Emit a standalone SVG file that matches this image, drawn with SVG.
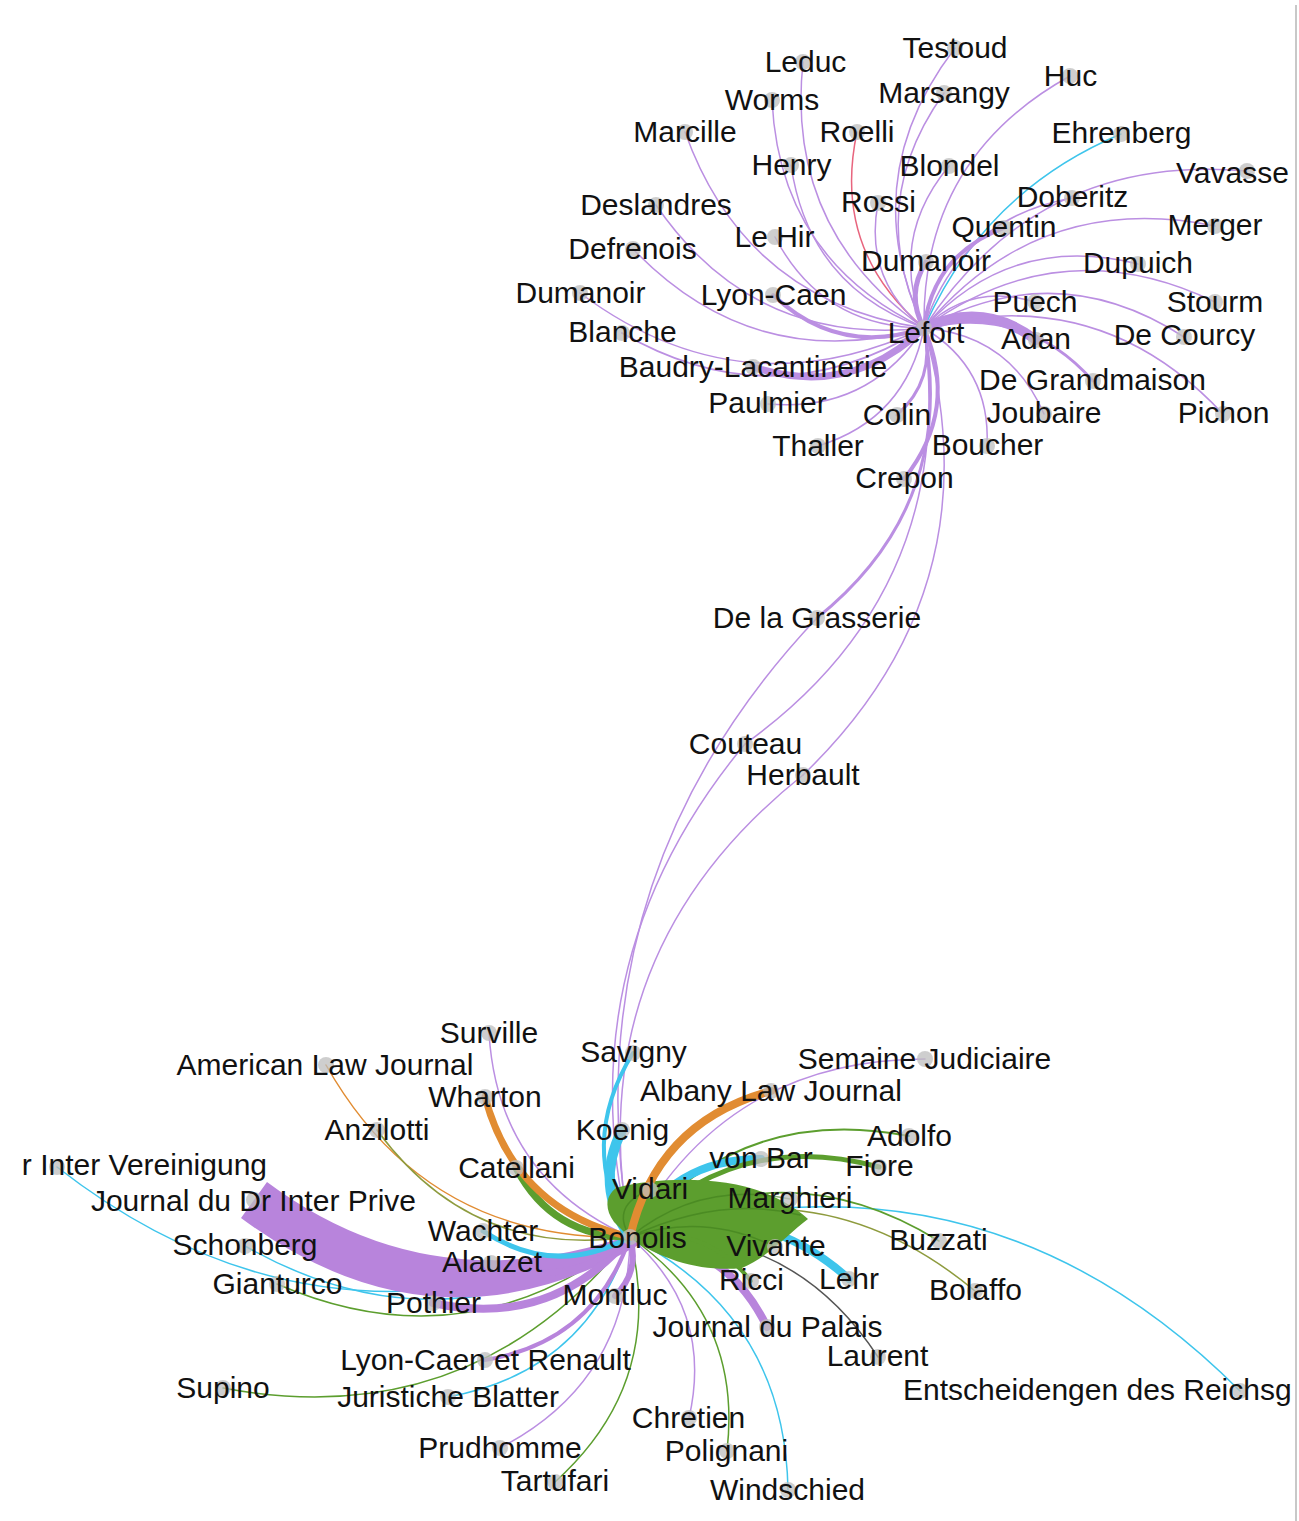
<svg xmlns="http://www.w3.org/2000/svg" width="1299" height="1521" viewBox="0 0 1299 1521">
<style>
.e{fill:none;stroke-linecap:round}
.p{stroke:#bb8fe2;stroke-width:1.5}
.c{stroke:#3ec5ec;stroke-width:1.5}
.g{stroke:#5c9e2e;stroke-width:1.5}
.o{stroke:#e18c32;stroke-width:1.5}
.r{stroke:#e8657e;stroke-width:1.5}
.ol{stroke:#8e9b3e;stroke-width:1.5}
.k{stroke:#555;stroke-width:1.5}
.dg{stroke:#3f7f1c;stroke-width:1.5;stroke-opacity:.6}
.n{fill:#bdbdbd;fill-opacity:.75}
text{font-family:"Liberation Sans",Arial,sans-serif;font-size:30px;fill:#111;text-anchor:middle}
</style>
<rect width="1299" height="1521" fill="#fff"/>
<line x1="1296" y1="5" x2="1296" y2="1521" stroke="#c8c8c8" stroke-width="2"/>
<g id="connectors">
<!-- Lefort hub -->
<path class="e p" d="M924,328 Q854.5,179.3 955,48"/>
<path class="e p" d="M924,328 Q785.2,230.4 803,62"/>
<path class="e p" d="M924,328 Q921.4,158.2 1070,76"/>
<path class="e p" d="M924,328 Q779.6,259.6 772,100"/>
<path class="e p" d="M924,328 Q863.8,205 944,93"/>
<path class="e p" d="M924,328 Q745.7,301.7 685,132"/>
<path class="e r" d="M924,328 Q831.7,250.1 857,132"/>
<path class="e c" d="M924,328 Q983.7,191.6 1121,134"/>
<path class="e p" d="M924,328 Q808.6,286.4 791,165"/>
<path class="e p" d="M924,328 Q887.9,239.5 949,166"/>
<path class="e p" d="M924,328 Q1038.1,152.1 1247,171"/>
<path class="e p" d="M924,328 Q753.1,346.9 656,205"/>
<path class="e p" d="M924,328 Q863.5,279.3 878,203"/>
<path class="e p" d="M924,328 Q959,218.6 1072,198"/>
<path class="e p" style="stroke-width:4" d="M924,328 Q933.5,254.3 1004,228"/>
<path class="e p" d="M924,328 Q1038.4,190 1215,226"/>
<path class="e p" d="M924,328 Q822.2,327.2 775,237"/>
<path class="e p" d="M924,328 Q754.8,375.8 633,249"/>
<path class="e p" style="stroke-width:5" d="M924,328 Q905.5,294.9 926,262"/>
<path class="e p" d="M924,328 Q1011.3,232.1 1138,264"/>
<path class="e p" d="M924,328 Q741.5,413.7 580,293"/>
<path class="e p" style="stroke-width:4" d="M924,328 Q838.6,356.8 773,295"/>
<path class="e p" d="M924,328 Q971.2,282 1035,302"/>
<path class="e p" d="M924,328 Q1061.2,228 1215,302"/>
<path class="e p" style="stroke-width:2" d="M924,328 Q774.5,421.1 622,333"/>
<path class="e p" style="stroke-width:10" d="M924,328 Q983.6,300.4 1036,340"/>
<path class="e p" d="M924,328 Q1056.7,254.5 1184,337"/>
<path class="e p" style="stroke-width:7" d="M924,328 Q850.2,398.8 753,367"/>
<path class="e p" style="stroke-width:3" d="M924,328 Q1024.4,303.8 1093,381"/>
<path class="e p" d="M924,328 Q868.8,412.8 768,404"/>
<path class="e p" style="stroke-width:3" d="M924,328 Q936.1,379.9 897,415"/>
<path class="e p" d="M924,328 Q1009.8,335 1044,414"/>
<path class="e p" d="M924,328 Q1099.3,281.3 1223,414"/>
<path class="e p" d="M924,328 Q905.9,419.1 818,446"/>
<path class="e p" d="M924,328 Q990.9,368.1 987,446"/>
<path class="e p" style="stroke-width:4" d="M924,328 Q959.3,409.5 904,479"/>
<path class="e p" style="stroke-width:3" d="M924,328 Q957.5,505.1 817,618"/>
<path class="e p" d="M924,328 Q959.3,589.7 745,744"/>
<path class="e p" d="M924,328 Q997.6,587.8 803,775"/>
<!-- Bonolis hub -->
<path class="e p" d="M630,1237 Q568.75,880.75 817,618"/>
<path class="e p" d="M630,1237 Q564.25,961.75 745,744"/>
<path class="e p" d="M630,1237 Q577.9,954.1 803,775"/>
<path class="e p" d="M630,1237 Q497.8,1177.6 489,1033"/>
<path class="e o" d="M630,1237 Q426.4,1242.2 326,1065"/>
<path class="e p" d="M630,1237 Q724.1,1059.5 925,1059"/>
<path class="e ol" d="M630,1237 Q471.4,1259.4 377,1130"/>
<path class="e c" d="M630,1237 Q322.5,1373.9 57,1167"/>
<path class="e c" d="M630,1237 Q440.2,1357 245,1246"/>
<path class="e g" d="M630,1237 Q467.6,1366.4 277,1284"/>
<path class="e g" d="M630,1237 Q471.8,1434.6 223,1388"/>
<path class="e c" d="M630,1237 Q587,1371.6 448,1397"/>
<path class="e p" d="M630,1237 Q713.8,1309.8 689,1418"/>
<path class="e p" d="M630,1237 Q628.3,1381.5 500,1448"/>
<path class="e g" d="M630,1237 Q742.7,1314.9 727,1451"/>
<path class="e g" d="M630,1237 Q666,1382 555,1482"/>
<path class="e c" d="M630,1237 Q784.9,1316.1 788,1490"/>
<path class="e k" d="M630,1237 Q790,1222.6 878,1357"/>
<path class="e c" d="M630,1237 Q981.8,1132 1240,1391"/>
<path class="e ol" d="M630,1237 Q818.7,1160.5 975,1291"/>
<path class="e g" d="M630,1237 Q785.7,1146.3 939,1241"/>
<path class="e g" style="stroke-width:2" d="M630,1237 Q739.2,1102.8 909,1136"/>
<path fill="#b884dc" d="M267,1182 Q432.9,1305.8 634.5,1233.6 L639.5,1244.4 Q435.2,1362.2 241,1218 Z"/>
<path class="e p" style="stroke:#b884dc;stroke-width:8" d="M630,1237 Q551.3,1329.1 433,1303"/>
<path class="e p" style="stroke:#b884dc;stroke-width:6" d="M630,1237 Q568.3,1291.7 491,1263"/>
<path class="e p" style="stroke:#b884dc;stroke-width:4" d="M630,1237 Q594.4,1342 485,1360"/>
<path class="e p" style="stroke:#b884dc;stroke-width:6" d="M630,1237 Q640.2,1271 615,1296"/>
<path class="e c" style="stroke-width:5" d="M630,1237 Q554.7,1278.1 483,1231"/>
<path class="e g" style="stroke-width:7" d="M630,1237 Q552.3,1236.7 516,1168"/>
<path class="e o" style="stroke-width:7" d="M630,1237 Q515.5,1210.5 485,1097"/>
<path class="e c" style="stroke-width:4" d="M630,1237 Q576.3,1144.1 633,1053"/>
<path class="e c" style="stroke-width:10" d="M630,1237 Q593.9,1185.9 622,1130"/>
<path class="e c" style="stroke-width:8" d="M630,1237 Q672.1,1158.7 761,1159"/>
<path class="e g" style="stroke-width:5" d="M630,1237 Q733.5,1127.3 879,1167"/>
<path class="e c" style="stroke-width:8" d="M630,1237 Q752.1,1192.3 849,1279"/>
<path class="e p" style="stroke:#b884dc;stroke-width:8" d="M630,1237 Q725.5,1240.9 767,1327"/>
<path fill="#5c9e2e" d="M630,1238 L614,1222 C604,1208 606,1196 616,1188 C660,1176 730,1176 772,1196 C790,1204 800,1212 808,1219 C790,1232 770,1256 742,1268 C705,1272 665,1262 630,1238 Z"/>
<path class="e g" style="stroke-width:4" d="M630,1237 Q703.7,1222.7 751,1281"/>
<path class="e dg" d="M630,1237 Q700,1180 790,1199"/>
<path class="e dg" d="M630,1237 Q705,1212 775,1247"/>
<path class="e dg" d="M630,1237 Q610,1205 650,1190"/>
<path class="e dg" d="M630,1237 Q720,1195 800,1215"/>
<path class="e o" style="stroke-width:8" d="M630,1237 Q656.7,1121.7 771,1091"/>
</g>
<g id="nodes">
<g id="n-testoud"><circle class="n" cx="955" cy="48" r="8"/><text x="955" y="58">Testoud</text></g>
<g id="n-leduc"><circle class="n" cx="803" cy="62" r="8"/><text x="805.5" y="72">Leduc</text></g>
<g id="n-huc"><circle class="n" cx="1070" cy="76" r="8"/><text x="1070.5" y="86">Huc</text></g>
<g id="n-worms"><circle class="n" cx="772" cy="100" r="8"/><text x="772" y="110">Worms</text></g>
<g id="n-marsangy"><circle class="n" cx="944" cy="93" r="8"/><text x="944" y="103">Marsangy</text></g>
<g id="n-marcille"><circle class="n" cx="685" cy="132" r="8"/><text x="685" y="142">Marcille</text></g>
<g id="n-roelli"><circle class="n" cx="857" cy="132" r="8"/><text x="857" y="142">Roelli</text></g>
<g id="n-ehrenberg"><circle class="n" cx="1121" cy="134" r="8"/><text x="1121.5" y="143">Ehrenberg</text></g>
<g id="n-henry"><circle class="n" cx="791" cy="165" r="8"/><text x="791.5" y="175">Henry</text></g>
<g id="n-blondel"><circle class="n" cx="949" cy="166" r="8"/><text x="949.5" y="176">Blondel</text></g>
<g id="n-vavasseur"><circle class="n" cx="1247" cy="171" r="8"/><text x="1176" y="183" style="text-anchor:start">Vavasse</text></g>
<g id="n-deslandres"><circle class="n" cx="656" cy="205" r="8"/><text x="656" y="215">Deslandres</text></g>
<g id="n-rossi"><circle class="n" cx="878" cy="203" r="8"/><text x="878.5" y="212">Rossi</text></g>
<g id="n-doberitz"><circle class="n" cx="1072" cy="198" r="8"/><text x="1072.5" y="207">Doberitz</text></g>
<g id="n-quentin"><circle class="n" cx="1004" cy="228" r="8"/><text x="1004" y="237">Quentin</text></g>
<g id="n-merger"><circle class="n" cx="1215" cy="226" r="8"/><text x="1215" y="235">Merger</text></g>
<g id="n-lehir"><circle class="n" cx="775" cy="237" r="8"/><text x="774.5" y="247">Le Hir</text></g>
<g id="n-defrenois"><circle class="n" cx="633" cy="249" r="8"/><text x="632.5" y="259">Defrenois</text></g>
<g id="n-dumanoir1"><circle class="n" cx="926" cy="262" r="8"/><text x="926" y="271">Dumanoir</text></g>
<g id="n-dupuich"><circle class="n" cx="1138" cy="264" r="8"/><text x="1138" y="273">Dupuich</text></g>
<g id="n-dumanoir2"><circle class="n" cx="580" cy="293" r="8"/><text x="580.5" y="303">Dumanoir</text></g>
<g id="n-lyoncaen"><circle class="n" cx="773" cy="295" r="8"/><text x="773.5" y="305">Lyon-Caen</text></g>
<g id="n-puech"><circle class="n" cx="1035" cy="302" r="8"/><text x="1035" y="312">Puech</text></g>
<g id="n-stourm"><circle class="n" cx="1215" cy="302" r="8"/><text x="1215" y="312">Stourm</text></g>
<g id="n-blanche"><circle class="n" cx="622" cy="333" r="8"/><text x="622.5" y="342">Blanche</text></g>
<g id="n-lefort"><circle class="n" cx="924" cy="328" r="8"/><text x="926" y="343">Lefort</text></g>
<g id="n-adan"><circle class="n" cx="1036" cy="340" r="8"/><text x="1036" y="349">Adan</text></g>
<g id="n-decourcy"><circle class="n" cx="1184" cy="337" r="8"/><text x="1184.5" y="345">De Courcy</text></g>
<g id="n-baudry"><circle class="n" cx="753" cy="367" r="8"/><text x="753" y="377">Baudry-Lacantinerie</text></g>
<g id="n-degrandmaison"><circle class="n" cx="1093" cy="381" r="8"/><text x="1092.5" y="390">De Grandmaison</text></g>
<g id="n-paulmier"><circle class="n" cx="768" cy="404" r="8"/><text x="767.5" y="413">Paulmier</text></g>
<g id="n-colin"><circle class="n" cx="897" cy="415" r="8"/><text x="897" y="425">Colin</text></g>
<g id="n-joubaire"><circle class="n" cx="1044" cy="414" r="8"/><text x="1044" y="423">Joubaire</text></g>
<g id="n-pichon"><circle class="n" cx="1223" cy="414" r="8"/><text x="1223.5" y="423">Pichon</text></g>
<g id="n-thaller"><circle class="n" cx="818" cy="446" r="8"/><text x="818" y="456">Thaller</text></g>
<g id="n-boucher"><circle class="n" cx="987" cy="446" r="8"/><text x="987.5" y="455">Boucher</text></g>
<g id="n-crepon"><circle class="n" cx="904" cy="479" r="8"/><text x="904.5" y="488">Crepon</text></g>
<g id="n-delagrasserie"><circle class="n" cx="817" cy="618" r="8"/><text x="817" y="628">De la Grasserie</text></g>
<g id="n-couteau"><circle class="n" cx="745" cy="744" r="8"/><text x="745.5" y="754">Couteau</text></g>
<g id="n-herbault"><circle class="n" cx="803" cy="775" r="8"/><text x="803" y="785">Herbault</text></g>
<g id="n-surville"><circle class="n" cx="489" cy="1033" r="8"/><text x="489" y="1043">Surville</text></g>
<g id="n-savigny"><circle class="n" cx="633" cy="1053" r="8"/><text x="633.5" y="1062">Savigny</text></g>
<g id="n-americanlaw"><circle class="n" cx="326" cy="1065" r="8"/><text x="325" y="1075">American Law Journal</text></g>
<g id="n-semaine"><circle class="n" cx="925" cy="1059" r="8"/><text x="924.5" y="1069">Semaine Judiciaire</text></g>
<g id="n-albany"><circle class="n" cx="771" cy="1091" r="8"/><text x="771" y="1101">Albany Law Journal</text></g>
<g id="n-wharton"><circle class="n" cx="485" cy="1097" r="8"/><text x="485" y="1107">Wharton</text></g>
<g id="n-anzilotti"><circle class="n" cx="377" cy="1130" r="8"/><text x="377" y="1140">Anzilotti</text></g>
<g id="n-koenig"><circle class="n" cx="622" cy="1130" r="8"/><text x="622.5" y="1140">Koenig</text></g>
<g id="n-adolfo"><circle class="n" cx="909" cy="1136" r="8"/><text x="909.5" y="1146">Adolfo</text></g>
<g id="n-vereinigung"><circle class="n" cx="57" cy="1167" r="8"/><text x="267" y="1175" style="text-anchor:end">r Inter Vereinigung</text></g>
<g id="n-catellani"><circle class="n" cx="516" cy="1168" r="8"/><text x="516.5" y="1178">Catellani</text></g>
<g id="n-vonbar"><circle class="n" cx="761" cy="1159" r="8"/><text x="761" y="1168">von Bar</text></g>
<g id="n-fiore"><circle class="n" cx="879" cy="1167" r="8"/><text x="879.5" y="1176">Fiore</text></g>
<g id="n-vidari"><circle class="n" cx="650" cy="1190" r="8"/><text x="650" y="1199">Vidari</text></g>
<g id="n-marghieri"><circle class="n" cx="790" cy="1199" r="8"/><text x="790" y="1208">Marghieri</text></g>
<g id="n-jdip"><circle class="n" cx="254" cy="1200" r="8"/><text x="253.5" y="1211">Journal du Dr Inter Prive</text></g>
<g id="n-wachter"><circle class="n" cx="483" cy="1231" r="8"/><text x="483" y="1241">Wachter</text></g>
<g id="n-bonolis"><circle class="n" cx="630" cy="1237" r="8"/><text x="637.5" y="1248">Bonolis</text></g>
<g id="n-schonberg"><circle class="n" cx="245" cy="1246" r="8"/><text x="245" y="1255">Schonberg</text></g>
<g id="n-buzzati"><circle class="n" cx="939" cy="1241" r="8"/><text x="938.5" y="1250">Buzzati</text></g>
<g id="n-vivante"><circle class="n" cx="775" cy="1247" r="8"/><text x="776" y="1256">Vivante</text></g>
<g id="n-alauzet"><circle class="n" cx="491" cy="1263" r="8"/><text x="492" y="1272">Alauzet</text></g>
<g id="n-ricci"><circle class="n" cx="751" cy="1281" r="8"/><text x="751.5" y="1290">Ricci</text></g>
<g id="n-lehr"><circle class="n" cx="849" cy="1279" r="8"/><text x="849" y="1289">Lehr</text></g>
<g id="n-gianturco"><circle class="n" cx="277" cy="1284" r="8"/><text x="277.5" y="1294">Gianturco</text></g>
<g id="n-bolaffo"><circle class="n" cx="975" cy="1291" r="8"/><text x="975.5" y="1300">Bolaffo</text></g>
<g id="n-montluc"><circle class="n" cx="615" cy="1296" r="8"/><text x="615" y="1305">Montluc</text></g>
<g id="n-pothier"><circle class="n" cx="433" cy="1303" r="8"/><text x="433.5" y="1313">Pothier</text></g>
<g id="n-jdpalais"><circle class="n" cx="767" cy="1327" r="8"/><text x="767.5" y="1337">Journal du Palais</text></g>
<g id="n-laurent"><circle class="n" cx="878" cy="1357" r="8"/><text x="877.5" y="1366">Laurent</text></g>
<g id="n-lcr"><circle class="n" cx="485" cy="1360" r="8"/><text x="485.5" y="1370">Lyon-Caen et Renault</text></g>
<g id="n-supino"><circle class="n" cx="223" cy="1388" r="8"/><text x="223" y="1398">Supino</text></g>
<g id="n-entscheidengen"><circle class="n" cx="1240" cy="1391" r="8"/><text x="903" y="1400" style="text-anchor:start">Entscheidengen des Reichsg</text></g>
<g id="n-juristiche"><circle class="n" cx="448" cy="1397" r="8"/><text x="448" y="1407">Juristiche Blatter</text></g>
<g id="n-chretien"><circle class="n" cx="689" cy="1418" r="8"/><text x="688.5" y="1428">Chretien</text></g>
<g id="n-prudhomme"><circle class="n" cx="500" cy="1448" r="8"/><text x="500" y="1458">Prudhomme</text></g>
<g id="n-polignani"><circle class="n" cx="727" cy="1451" r="8"/><text x="726.5" y="1461">Polignani</text></g>
<g id="n-tartufari"><circle class="n" cx="555" cy="1482" r="8"/><text x="555" y="1491">Tartufari</text></g>
<g id="n-windschied"><circle class="n" cx="788" cy="1490" r="8"/><text x="787.5" y="1500">Windschied</text></g>
</g>
</svg>
